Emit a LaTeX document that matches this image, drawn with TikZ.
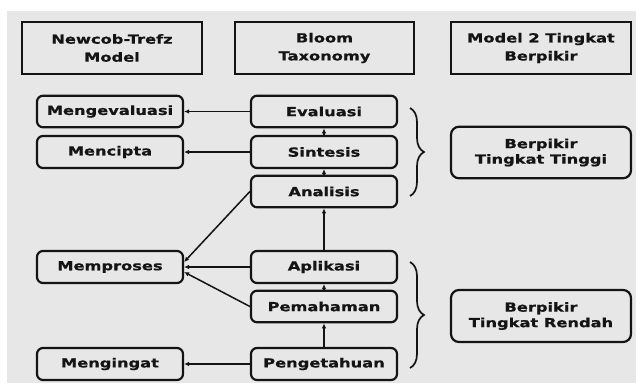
\documentclass[tikz,border=0pt]{standalone}
\usepackage{fontspec}
\usetikzlibrary{arrows.meta,decorations.pathreplacing}
\newfontfamily\lblfont[FakeStretch=1.3,FakeBold=0.8]{DejaVu Sans Bold}
\definecolor{bggray}{HTML}{E7E7E7}
\definecolor{ink}{HTML}{141414}
\begin{document}
\begin{tikzpicture}[x=1pt,y=-1pt,
  hdr/.style={draw=ink,line width=2.2pt,fill=bggray,inner sep=0pt,minimum width=180pt,minimum height=52pt,align=center,font=\lblfont\fontsize{12.5}{18}\selectfont,text=ink},
  rbox/.style={draw=ink,line width=2.2pt,rounded corners=6pt,fill=bggray,inner sep=0pt,minimum width=146pt,minimum height=31.5pt,font=\lblfont\fontsize{12.5}{15}\selectfont,text=ink},
  bigbox/.style={draw=ink,line width=2.2pt,rounded corners=8pt,fill=bggray,inner sep=0pt,minimum width=180pt,minimum height=51.5pt,align=center,font=\lblfont\fontsize{12.5}{15.5}\selectfont,text=ink},
  arr/.style={draw=ink,line width=1.5pt,-{Latex[length=5pt,width=4.5pt]}},
  brc/.style={draw=ink,line width=1.7pt,decorate,decoration={brace,amplitude=14pt}}]
\useasboundingbox (0,0) rectangle (636,383);
\fill[white] (0,0) rectangle (636,383);
\fill[bggray] (7,11) rectangle (636,383);
% headers
\node[hdr] (h1) at (112,48) {Newcob-Trefz\\Model};
\node[hdr,minimum width=179pt] (h2) at (324.5,48) {Bloom\\Taxonomy};
\node[hdr] (h3) at (541,48) {Model 2 Tingkat\\Berpikir};
% left column
\node[rbox] (meng) at (110,111.5) {Mengevaluasi};
\node[rbox,minimum height=32pt] (menc) at (110,152) {Mencipta};
\node[rbox,minimum height=32pt] (memp) at (110,267) {Memproses};
\node[rbox,minimum height=32pt] (ming) at (110,364) {Mengingat};
% middle column
\node[rbox] (eval) at (324,111.5) {Evaluasi};
\node[rbox,minimum height=32pt] (sint) at (324,152) {Sintesis};
\node[rbox] (anal) at (324,191.5) {Analisis};
\node[rbox,minimum height=32pt] (apli) at (324,267) {Aplikasi};
\node[rbox] (pema) at (324,306.5) {Pemahaman};
\node[rbox,minimum height=32pt] (peng) at (324,364) {Pengetahuan};
% right column
\node[bigbox] (tinggi) at (541,152.5) {Berpikir\\Tingkat Tinggi};
\node[bigbox,minimum height=52pt] (rendah) at (541,316) {Berpikir\\Tingkat Rendah};
% braces
\coordinate (b1a) at (410,108);
\coordinate (b1b) at (410,196);
\coordinate (b2a) at (410,262);
\coordinate (b2b) at (410,368);
\draw[brc] (b1a) -- (b1b);
\draw[brc] (b2a) -- (b2b);
% horizontal arrows
\draw[arr] (eval.west) -- (meng.east);
\draw[arr] (sint.west) -- (menc.east);
\draw[arr] (apli.west) -- (memp.east);
\draw[arr] (peng.west) -- (ming.east);
\draw[arr] (anal.west) -- ([yshift=5pt]memp.east);
\draw[arr] (pema.west) -- ([yshift=-5pt]memp.east);
% upward arrows
\draw[arr] (sint.north) -- (eval.south);
\draw[arr] (anal.north) -- (sint.south);
\draw[arr] (apli.north) -- (anal.south);
\draw[arr] (pema.north) -- (apli.south);
\draw[arr] (peng.north) -- (pema.south);
\end{tikzpicture}
\end{document}
